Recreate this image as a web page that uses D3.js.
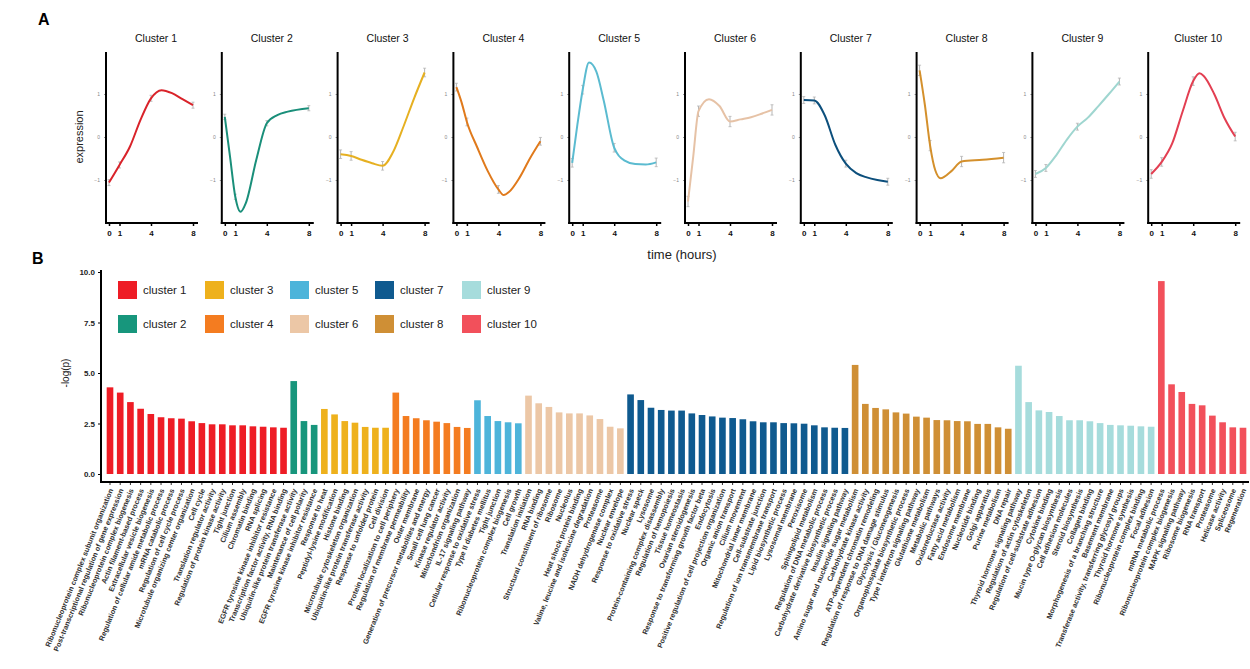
<!DOCTYPE html>
<html><head><meta charset="utf-8">
<script src="https://cdn.jsdelivr.net/npm/d3@7"></script>
<style>body{margin:0;background:#fff;} svg{font-family:"Liberation Sans",Arial,sans-serif;}</style>
</head><body><svg id="c" width="1250" height="669"></svg>
<script>
// ---------- DATA ----------
const clusterNames = ["Cluster 1","Cluster 2","Cluster 3","Cluster 4","Cluster 5","Cluster 6","Cluster 7","Cluster 8","Cluster 9","Cluster 10"];
const legendNames = ["cluster 1","cluster 2","cluster 3","cluster 4","cluster 5","cluster 6","cluster 7","cluster 8","cluster 9","cluster 10"];
const curveColors = ["#d9232a","#1a8f7a","#e6b021","#e07a1c","#5bbbd0","#e6c2a6","#0c4f7c","#d4902c","#9fd6d0","#e33f52"];
const barColors = ["#ee1c25","#17967c","#eeb11c","#f47c20","#4db4da","#ecc7a6","#0f5a8f","#cf8f35","#a6dcdc","#f2505b"];
const timeTicks = [0,1,4,8];
const exprTicks = [-1,0,1];

const profile1 = [[0,-1.06],[1,-0.65],[2,-0.22],[3,0.4],[4,0.9],[5,1.09],[6,1.02],[7,0.88],[8,0.74]];
const profile2 = [[0,0.47],[0.5,-0.46],[1,-1.39],[1.5,-1.74],[2,-1.54],[3,-0.53],[4,0.32],[5,0.51],[6,0.59],[8,0.67]];
const profile3 = [[0,-0.4],[1,-0.44],[2,-0.53],[3,-0.61],[4,-0.67],[5,-0.35],[6,0.25],[7,0.9],[8,1.5]];
const profile4 = [[0,1.16],[0.5,0.8],[1,0.35],[2,-0.25],[3,-0.8],[4,-1.22],[4.5,-1.35],[5,-1.28],[6,-0.95],[7,-0.5],[8,-0.1]];
const profile5 = [[0,-0.6],[0.5,0.3],[1,1.1],[1.6,1.73],[2.3,1.52],[3,0.85],[4,-0.25],[5,-0.55],[6,-0.63],[7,-0.64],[8,-0.59]];
const profile6 = [[0,-1.5],[0.5,-0.45],[1,0.6],[2,0.88],[3,0.72],[4,0.36],[5,0.41],[6,0.46],[7,0.54],[8,0.63]];
const profile7 = [[0,0.86],[1,0.85],[2,0.5],[3,-0.18],[4,-0.62],[5,-0.84],[6,-0.94],[7,-1.0],[8,-1.04]];
const profile8 = [[0,1.55],[0.5,0.75],[1,-0.2],[1.5,-0.78],[2,-0.96],[3,-0.8],[4,-0.57],[6,-0.53],[8,-0.48]];
const profile9 = [[0,-0.86],[1,-0.72],[2,-0.42],[3,-0.06],[4,0.24],[5,0.45],[6,0.72],[7,1.0],[8,1.29]];
const profile10 = [[0,-0.86],[1,-0.58],[2,-0.15],[3,0.6],[4,1.3],[4.6,1.48],[5,1.42],[6,1.0],[7,0.43],[8,0.01]];
const profiles = [profile1,profile2,profile3,profile4,profile5,profile6,profile7,profile8,profile9,profile10];
const errHalf = [0.07,0.06,0.1,0.09,0.1,0.12,0.08,0.12,0.08,0.1];

const terms1 = ["Ribonucleoprotein complex subunit organization","Post-transcriptional regulation of gene expression","Ribonucleoprotein complex biogenesis","Actin filament-based process","Extracellular vesicle biogenesis","Regulation of cellular amide metabolic process","mRNA catabolic process","Regulation of cell cycle process","Microtubule organizing center organization","Cell cycle","Translation regulator activity","Regulation of protein kinase activity","Tight junction","Cilium assembly","Chromatin binding","RNA splicing","EGFR tyrosine kinase inhibitor resistance","Transcription factor activity, RNA binding"];
const values1 = [4.29,4.03,3.56,3.23,2.97,2.81,2.76,2.74,2.61,2.52,2.46,2.46,2.41,2.41,2.36,2.34,2.31,2.29];
const terms2 = ["Ubiquitin-like protein transferase activity","Maintenance of cell polarity","EGFR tyrosine kinase inhibitor resistance"];
const values2 = [4.6,2.62,2.43];
const terms3 = ["Response to heat","Peptidyl-lysine modification","Histone binding","Microtubule cytoskeleton organization","Ubiquitin-like protein transferase activity","Response to unfolded protein","Cell division"];
const values3 = [3.22,2.95,2.62,2.54,2.33,2.29,2.29];
const terms4 = ["Protein localization to cell periphery","Regulation of membrane permeability","Outer membrane","Generation of precursor metabolites and energy","Small cell lung cancer","Kinase regulator activity","Mitochondrion organization","IL-17 signaling pathway"];
const values4 = [4.03,2.87,2.76,2.66,2.59,2.52,2.33,2.28];
const terms5 = ["Cellular response to oxidative stress","Type II diabetes mellitus","Tight junction","Ribonucleoprotein complex biogenesis","Cell growth"];
const values5 = [3.65,2.87,2.62,2.56,2.51];
const terms6 = ["Translation initiation","RNA binding","Structural constituent of ribosome","Ribosome","Nucleolus","Heat shock protein binding","Valine, leucine and isoleucine degradation","Proteasome","NADH dehydrogenase complex","Nuclear envelope"];
const values6 = [3.88,3.5,3.32,3.05,3.0,3.0,2.9,2.72,2.34,2.26];
const terms7 = ["Response to oxidative stress","Nuclear speck","Lysosome","Protein-containing complex disassembly","Regulation of hemopoiesis","Tissue homeostasis","Ovarian steroidogenesis","Response to transforming growth factor beta","Endocytosis","Positive regulation of cell projection organization","Organic anion transport","Cilium movement","Mitochondrial inner membrane","Cell-substrate junction","Regulation of ion transmembrane transport","Lipid biosynthetic process","Lysosomal membrane","Peroxisome","Sphingolipid metabolism","Regulation of DNA metabolic process","Carbohydrate derivative biosynthetic process","Insulin signaling pathway"];
const values7 = [3.94,3.66,3.28,3.17,3.14,3.14,3.0,2.92,2.85,2.79,2.77,2.71,2.61,2.56,2.56,2.52,2.51,2.49,2.41,2.31,2.29,2.28];
const terms8 = ["Amino sugar and nucleotide sugar metabolism","Carbohydrate kinase activity","ATP-dependent chromatin remodeling","Regulation of response to DNA damage stimulus","Glycolysis / Gluconeogenesis","Organophosphate biosynthetic process","Type I interferon signaling pathway","Glutathione metabolism","Metabolic pathways","Oxidoreductase activity","Fatty acid metabolism","Endosome membrane","Nucleotide binding","Golgi apparatus","Purine metabolism","DNA repair"];
const values8 = [5.4,3.47,3.27,3.2,3.05,2.99,2.84,2.79,2.67,2.66,2.62,2.61,2.48,2.48,2.31,2.24];
const terms9 = ["Thyroid hormone signaling pathway","Regulation of actin cytoskeleton","Regulation of cell-substrate adhesion","Cytokine binding","Mucin type O-glycan biosynthesis","Cell adhesion molecules","Steroid biosynthesis","Collagen binding","Morphogenesis of a branching structure","Basement membrane","Transferase activity, transferring glycosyl groups","Thyroid hormone synthesis","Ribonucleoprotein complex binding","Focal adhesion"];
const values9 = [5.36,3.56,3.15,3.07,2.87,2.66,2.66,2.61,2.52,2.43,2.41,2.39,2.36,2.34];
const terms10 = ["mRNA metabolic process","Ribonucleoprotein complex biogenesis","MAPK signaling pathway","Ribosome biogenesis","RNA transport","Proteasome","Helicase activity","Spliceosome","Regeneration"];
const values10 = [9.55,4.44,4.06,3.47,3.4,2.89,2.56,2.31,2.29];
const pTicks = [0,2.5,5,7.5,10];

const termLists = [terms1,terms2,terms3,terms4,terms5,terms6,terms7,terms8,terms9,terms10];
const valueLists = [values1,values2,values3,values4,values5,values6,values7,values8,values9,values10];

// ---------- DRAW ----------
const svg = d3.select("#c");

svg.append("text").attr("x",38).attr("y",25).attr("font-size",16).attr("font-weight","bold").text("A");
svg.append("text").attr("x",32).attr("y",264).attr("font-size",16).attr("font-weight","bold").text("B");

// Panel A
const yA = d3.scaleLinear().domain([-2,2]).range([223,51]);
profiles.forEach((prof,i)=>{
  const left = 106 + i*115.8;
  const xA = d3.scaleLinear().domain([0,8]).range([left+3,left+87]);
  const g = svg.append("g");
  g.append("text").attr("x",left+50).attr("y",42).attr("text-anchor","middle")
    .attr("font-size",10.5).attr("fill","#111").text(clusterNames[i]);
  const ya = g.append("g").attr("transform",`translate(${left},0)`)
    .call(d3.axisLeft(yA).tickValues(exprTicks).tickSize(2).tickFormat(d3.format("d")));
  ya.select(".domain").remove();
  ya.selectAll("line").attr("stroke","#999");
  ya.selectAll("text").attr("font-size",5).attr("fill","#888").attr("dx",-1);
  const xa = g.append("g").attr("transform","translate(0,223)")
    .call(d3.axisBottom(xA).tickValues(timeTicks).tickSize(3).tickFormat(d3.format("d")));
  xa.select(".domain").remove();
  xa.selectAll("line").attr("stroke","#000").attr("stroke-width",1.5);
  xa.selectAll("text").attr("font-size",8).attr("font-weight","bold").attr("fill","#111").attr("dy","0.9em");
  g.append("line").attr("x1",left).attr("x2",left).attr("y1",52).attr("y2",224).attr("stroke","#000").attr("stroke-width",2);
  g.append("line").attr("x1",left-1).attr("x2",left+92).attr("y1",223).attr("y2",223).attr("stroke","#000").attr("stroke-width",2);
  const eb = prof.filter(p=>timeTicks.includes(p[0]));
  eb.forEach(p=>{
    const h = errHalf[i];
    g.append("line").attr("x1",xA(p[0])).attr("x2",xA(p[0])).attr("y1",yA(p[1]-h)).attr("y2",yA(p[1]+h)).attr("stroke","#b5b5b5").attr("stroke-width",1);
    [p[1]-h,p[1]+h].forEach(v=>g.append("line").attr("x1",xA(p[0])-1.5).attr("x2",xA(p[0])+1.5).attr("y1",yA(v)).attr("y2",yA(v)).attr("stroke","#b5b5b5").attr("stroke-width",0.8));
  });
  const line = d3.line().x(d=>xA(d[0])).y(d=>yA(d[1])).curve(d3.curveMonotoneX);
  g.append("path").datum(prof).attr("d",line).attr("fill","none").attr("stroke",curveColors[i]).attr("stroke-width",2);
});
svg.append("text").attr("transform","translate(83,137) rotate(-90)").attr("text-anchor","middle").attr("font-size",11).attr("fill","#222").text("expression");
svg.append("text").attr("x",682).attr("y",259).attr("text-anchor","middle").attr("font-size",13).attr("fill","#222").text("time (hours)");

// Panel B
const bars = [];
termLists.forEach((terms,ci)=>terms.forEach((t,j)=>bars.push({term:t,value:valueLists[ci][j],cluster:ci})));
const x = d3.scaleBand().domain(d3.range(bars.length)).range([104.9,1248.1]).paddingInner(0.35).paddingOuter(0.175);
const y = d3.scaleLinear().domain([0,10]).range([474,272]);

svg.append("g").selectAll("rect").data(bars).join("rect")
  .attr("x",(d,i)=>x(i)).attr("width",x.bandwidth())
  .attr("y",d=>y(d.value)).attr("height",d=>y(0)-y(d.value))
  .attr("fill",d=>barColors[d.cluster]);

const yAx = svg.append("g").attr("transform","translate(101,0)")
  .call(d3.axisLeft(y).tickValues(pTicks).tickSize(3).tickFormat(d3.format(".1f")));
yAx.select(".domain").remove();
yAx.selectAll("line").attr("stroke","#000");
yAx.selectAll("text").attr("font-size",8).attr("font-weight","bold").attr("fill","#222");

const xAx = svg.append("g").attr("transform","translate(0,482)")
  .call(d3.axisBottom(x).tickSize(3).tickFormat(i=>bars[i].term));
xAx.select(".domain").remove();
xAx.selectAll("line").attr("stroke","#333");
xAx.selectAll("text").attr("y",0).attr("x",0).attr("dy","0.35em")
  .attr("transform","translate(1,7) rotate(-68)").style("text-anchor","end")
  .attr("font-size",7.3).attr("font-weight","bold").attr("fill","#333");

svg.append("line").attr("x1",101).attr("x2",101).attr("y1",270).attr("y2",483).attr("stroke","#000").attr("stroke-width",2);
svg.append("line").attr("x1",100).attr("x2",1249).attr("y1",482).attr("y2",482).attr("stroke","#000").attr("stroke-width",2);

svg.append("text").attr("transform","translate(69,373) rotate(-90)").attr("text-anchor","middle").attr("font-size",10).attr("fill","#222").text("-log(p)");

// Legend
const legX = [118,205,290,375,462];
const legY = [281,315];
legendNames.forEach((n,i)=>{
  const col = Math.floor(i/2), row = i%2;
  svg.append("rect").attr("x",legX[col]).attr("y",legY[row]).attr("width",19).attr("height",18).attr("fill",barColors[i]);
  svg.append("text").attr("x",legX[col]+25).attr("y",legY[row]+13).attr("font-size",11.5).attr("fill","#222").text(n);
});
</script></body></html>
